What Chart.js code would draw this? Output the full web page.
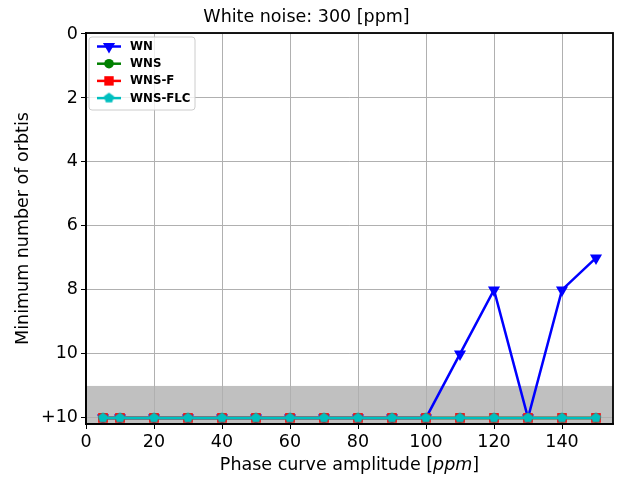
<!DOCTYPE html>
<html lang="en">
<head>
<meta charset="UTF-8">
<title>White noise: 300 [ppm]</title>
<script src="https://cdn.jsdelivr.net/npm/chart.js"></script>
<style>body{margin:0;background:#fff}</style>
</head>
<body>
<canvas id="orbitsChart" width="621" height="480"></canvas>
<script>
// data
const amplitudes = [5, 10, 20, 30, 40, 50, 60, 70, 80, 90, 100, 110, 120, 130, 140, 150];
const orbitsWN     = [12, 12, 12, 12, 12, 12, 12, 12, 12, 12, 12, 10, 8, 12, 8, 7];
const orbitsWNS    = [12, 12, 12, 12, 12, 12, 12, 12, 12, 12, 12, 12, 12, 12, 12, 12];
const orbitsWNSF   = [12, 12, 12, 12, 12, 12, 12, 12, 12, 12, 12, 12, 12, 12, 12, 12];
const orbitsWNSFLC = [12, 12, 12, 12, 12, 12, 12, 12, 12, 12, 12, 12, 12, 12, 12, 12];
const seriesNames = ['WN', 'WNS', 'WNS-F', 'WNS-FLC'];
const xTicks = [0, 20, 40, 60, 80, 100, 120, 140];
const yTicks = [0, 2, 4, 6, 8, 10, 12];
const yTickLabels = ['0', '2', '4', '6', '8', '10', '+10'];
const bandFrom = 11;

const FONT = 'DejaVu Sans';
const FS = 17.5;
Chart.defaults.font.family = FONT;
Chart.defaults.font.size = FS;
Chart.defaults.color = '#000';

function pts(vals) {
  return amplitudes.map((a, i) => ({ x: a, y: vals[i] }));
}

// pentagon marker (matplotlib 'p')
function pentagon(color, r) {
  const c = document.createElement('canvas');
  const s = Math.ceil(r * 2 + 2);
  c.width = s; c.height = s;
  const g = c.getContext('2d');
  g.beginPath();
  for (let k = 0; k < 5; k++) {
    const a = -Math.PI / 2 + k * 2 * Math.PI / 5;
    const px = s / 2 + r * Math.cos(a), py = s / 2 + r * Math.sin(a);
    k ? g.lineTo(px, py) : g.moveTo(px, py);
  }
  g.closePath();
  g.fillStyle = color;
  g.fill();
  return c;
}
const pentaImg = pentagon('#00bfbf', 5.4);

const colors = ['#0000ff', '#008000', '#ff0000', '#00bfbf'];

// grey band, frame, axis titles and legend
const extras = {
  id: 'extras',
  beforeDraw(chart) {
    const { ctx, chartArea: a, scales: { y } } = chart;
    const y0 = y.getPixelForValue(bandFrom);
    ctx.save();
    ctx.fillStyle = '#c0c0c0';
    ctx.fillRect(a.left, y0, a.right - a.left, a.bottom - y0);
    ctx.restore();
  },
  afterDraw(chart) {
    const { ctx, chartArea: a } = chart;
    ctx.save();
    ctx.strokeStyle = '#000';
    ctx.lineWidth = 1.8;
    ctx.strokeRect(a.left, a.top, a.right - a.left, a.bottom - a.top);

    // x title with italic unit
    ctx.fillStyle = '#000';
    ctx.textBaseline = 'middle';
    const p1 = 'Phase curve amplitude [', p2 = 'ppm', p3 = ']';
    const f = FS + 'px "' + FONT + '"';
    ctx.font = f;
    const w1 = ctx.measureText(p1).width, w3 = ctx.measureText(p3).width;
    ctx.font = 'italic ' + f;
    const w2 = ctx.measureText(p2).width;
    let x = (a.left + a.right) / 2 - (w1 + w2 + w3) / 2;
    const ty = 465.5;
    ctx.textAlign = 'left';
    ctx.font = f;
    ctx.fillText(p1, x, ty); x += w1;
    ctx.font = 'italic ' + f;
    ctx.fillText(p2, x, ty); x += w2;
    ctx.font = f;
    ctx.fillText(p3, x, ty);

    // y title
    ctx.translate(23, (a.top + a.bottom) / 2);
    ctx.rotate(-Math.PI / 2);
    ctx.textAlign = 'center';
    ctx.fillText('Minimum number of orbtis', 0, 0);
    ctx.setTransform(1, 0, 0, 1, 0, 0);

    // legend
    const bx = 89, by = 37, bw = 106, bh = 73;
    ctx.beginPath();
    ctx.roundRect(bx, by, bw, bh, 3);
    ctx.fillStyle = 'rgba(255,255,255,0.8)';
    ctx.fill();
    ctx.strokeStyle = '#cccccc';
    ctx.lineWidth = 1;
    ctx.stroke();
    seriesNames.forEach((name, i) => {
      const ly = 46.5 + i * 17.2;
      ctx.strokeStyle = colors[i];
      ctx.lineWidth = 2.5;
      ctx.beginPath();
      ctx.moveTo(97, ly); ctx.lineTo(121, ly);
      ctx.stroke();
      ctx.fillStyle = colors[i];
      const mx = 109;
      ctx.beginPath();
      if (i === 0) {
        const r = 7;
        ctx.moveTo(mx, ly + r);
        ctx.lineTo(mx - r * 0.866, ly - r / 2);
        ctx.lineTo(mx + r * 0.866, ly - r / 2);
        ctx.closePath(); ctx.fill();
      } else if (i === 1) {
        ctx.arc(mx, ly, 4.8, 0, Math.PI * 2); ctx.fill();
      } else if (i === 2) {
        ctx.fillRect(mx - 4.7, ly - 4.7, 9.4, 9.4);
      } else {
        ctx.drawImage(pentaImg, mx - pentaImg.width / 2, ly - pentaImg.height / 2);
      }
      ctx.fillStyle = '#000';
      ctx.font = 'bold 11.8px "' + FONT + '"';
      ctx.textAlign = 'left';
      ctx.fillText(name, 130, ly + 0.5);
    });
    ctx.restore();
  }
};

new Chart(document.getElementById('orbitsChart'), {
  type: 'line',
  data: {
    datasets: [
      { label: seriesNames[0], data: pts(orbitsWN), borderColor: colors[0], backgroundColor: colors[0],
        borderWidth: 2.5, pointStyle: 'triangle', pointRotation: 180, pointRadius: 7, pointBorderWidth: 0, order: 3 },
      { label: seriesNames[1], data: pts(orbitsWNS), borderColor: colors[1], backgroundColor: colors[1],
        borderWidth: 2.5, pointStyle: 'circle', pointRadius: 4.8, pointBorderWidth: 0, order: 2 },
      { label: seriesNames[2], data: pts(orbitsWNSF), borderColor: colors[2], backgroundColor: colors[2],
        borderWidth: 2.5, pointStyle: 'rect', pointRadius: 6.8, pointBorderWidth: 0, order: 1 },
      { label: seriesNames[3], data: pts(orbitsWNSFLC), borderColor: colors[3], backgroundColor: colors[3],
        borderWidth: 2.5, pointStyle: pentaImg, pointRadius: 5, pointBorderWidth: 0, order: 0 }
    ]
  },
  options: {
    responsive: false,
    animation: false,
    layout: { padding: { left: 0, right: 8, top: 0, bottom: 0 } },
    plugins: {
      legend: { display: false },
      tooltip: { enabled: false },
      title: {
        display: true,
        text: 'White noise: 300 [ppm]',
        font: { size: FS, weight: 'normal' },
        color: '#000',
        padding: { top: 7, bottom: 5 }
      }
    },
    scales: {
      x: {
        type: 'linear',
        min: 0, max: 155,
        afterFit(s) { s.height = 56; },
        afterBuildTicks(s) { s.ticks = xTicks.map(v => ({ value: v })); },
        ticks: { padding: 3, color: '#000', font: { size: FS } },
        grid: { color: '#b0b0b0', lineWidth: 1, tickColor: '#000', tickLength: 5 },
        border: { color: '#000', width: 1.8 }
      },
      y: {
        type: 'linear',
        reverse: true,
        min: -0.03, max: 12.19,
        afterFit(s) { s.width = 86; },
        afterBuildTicks(s) { s.ticks = yTicks.map(v => ({ value: v })); },
        ticks: {
          padding: 3, color: '#000', font: { size: FS },
          callback: v => yTickLabels[yTicks.indexOf(v)]
        },
        grid: { color: '#b0b0b0', lineWidth: 1, tickColor: '#000', tickLength: 5 },
        border: { color: '#000', width: 1.8 }
      }
    }
  },
  plugins: [extras]
});
</script>
</body>
</html>
